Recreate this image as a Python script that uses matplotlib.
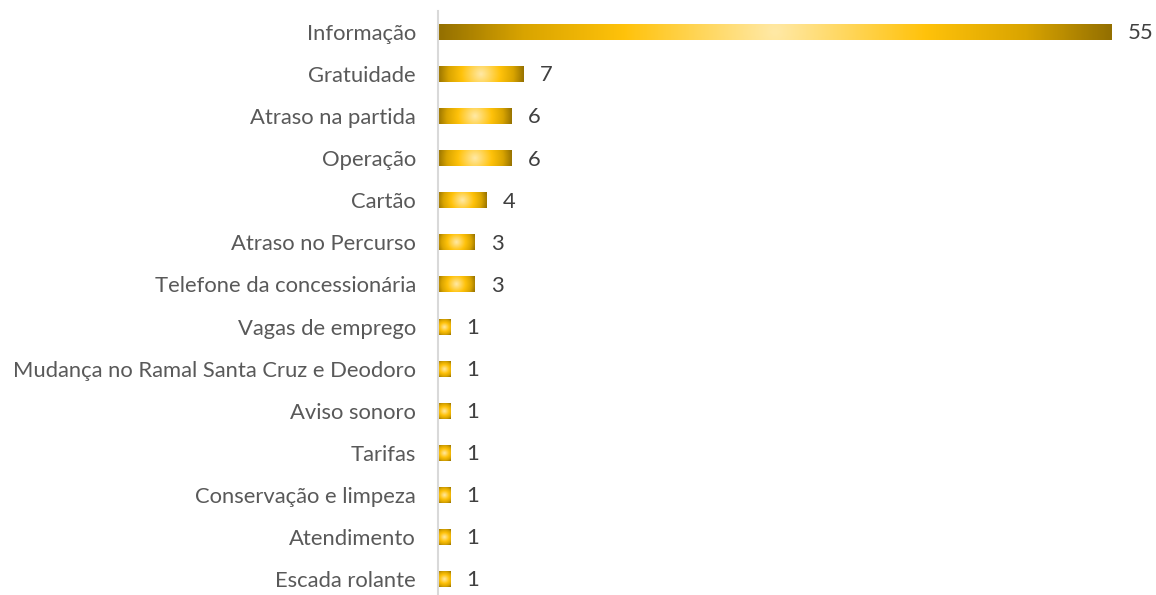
import matplotlib.pyplot as plt
import numpy as np
from matplotlib.colors import LinearSegmentedColormap
from matplotlib.patches import Rectangle

categories = ['Informação', 'Gratuidade', 'Atraso na partida', 'Operação', 'Cartão',
              'Atraso no Percurso', 'Telefone da concessionária', 'Vagas de emprego',
              'Mudança no Ramal Santa Cruz e Deodoro', 'Aviso sonoro', 'Tarifas',
              'Conservação e limpeza', 'Atendimento', 'Escada rolante']
values = [55, 7, 6, 6, 4, 3, 3, 1, 1, 1, 1, 1, 1, 1]

plt.rcParams['font.family'] = ['Lato', 'DejaVu Sans']
fontsize = 15.8
text_color = '#595959'
bar_h = 0.38

W, H = 1156, 595
fig = plt.figure(figsize=(W / 100, H / 100), dpi=100)
ax_left, ax_right = 438 / W, 1.0
ax_bottom, ax_top = 0.0, 1 - 11 / H
ax = fig.add_axes([ax_left, ax_bottom, ax_right - ax_left, ax_top - ax_bottom])

xmax = (W - 438) / 12.25
ax.set_xlim(0, xmax)
ax.set_ylim(13.38, -0.5)

# pixels per data unit, used for the round gradient
px_x = (ax_right - ax_left) * W / xmax
px_y = (ax_top - ax_bottom) * H / (13.38 + 0.5)

cmap = LinearSegmentedColormap.from_list('gold', [
    (0.0, '#FFE9A6'), (0.45, '#FFC20A'), (0.75, '#D9A400'), (1.0, '#947000')])

n = len(values)
for i, v in enumerate(values):
    x0, x1 = 0, v
    y0, y1 = i - bar_h / 2, i + bar_h / 2
    hw = (x1 - x0) / 2 * px_x
    hh = (y1 - y0) / 2 * px_y
    xs = np.linspace(-hw, hw, 200)
    ys = np.linspace(-hh, hh, 30)
    gx, gy = np.meshgrid(xs, ys)
    t = np.sqrt(gx ** 2 + gy ** 2) / np.sqrt(hw ** 2 + hh ** 2)
    im = ax.imshow(t, cmap=cmap, vmin=0, vmax=1, aspect='auto',
                   extent=[x0, x1, y1, y0], interpolation='bilinear', zorder=2)
    rect = Rectangle((x0, y0), x1 - x0, y1 - y0, transform=ax.transData,
                     facecolor='none', edgecolor='none')
    ax.add_patch(rect)
    im.set_clip_path(rect)
    ax.text(v + 16 / px_x, i + 0.03, str(v), va='center', ha='left',
            fontsize=fontsize, color='#404040')

ax.set_xlim(0, xmax)
ax.set_ylim(13.38, -0.5)
ax.set_yticks(range(n))
ax.set_yticklabels(categories, fontsize=fontsize, color=text_color)
ax.set_xticks([])
ax.tick_params(axis='y', length=0, pad=16)
for s in ['top', 'right', 'bottom']:
    ax.spines[s].set_visible(False)
ax.spines['left'].set_color('#D9D9D9')
ax.spines['left'].set_linewidth(1.5)

fig.savefig('out.png', dpi=100)
